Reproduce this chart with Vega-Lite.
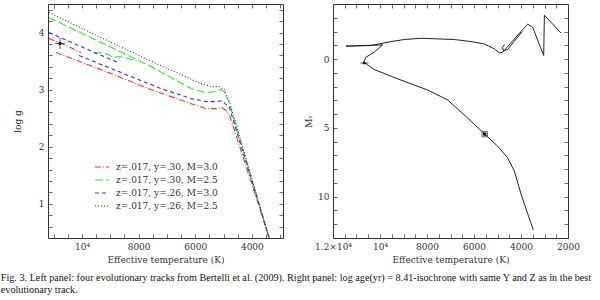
{
  "$schema": "https://vega.github.io/schema/vega-lite/v6.json",
  "padding": {"left": 0, "top": 3, "right": 0, "bottom": 0},
  "datasets": {
    "tracks": [
      {"track": "z=.017, y=.30, M=3.0", "seg": "a", "o": 1, "T": 10917, "g": 3.649},
      {"track": "z=.017, y=.30, M=3.0", "seg": "a", "o": 2, "T": 9327, "g": 3.351},
      {"track": "z=.017, y=.30, M=3.0", "seg": "a", "o": 3, "T": 7560, "g": 3.0},
      {"track": "z=.017, y=.30, M=3.0", "seg": "a", "o": 4, "T": 6146, "g": 2.754},
      {"track": "z=.017, y=.30, M=3.0", "seg": "a", "o": 5, "T": 5616, "g": 2.667},
      {"track": "z=.017, y=.30, M=3.0", "seg": "a", "o": 6, "T": 5263, "g": 2.667},
      {"track": "z=.017, y=.30, M=3.0", "seg": "a", "o": 7, "T": 5051, "g": 2.684},
      {"track": "z=.017, y=.30, M=3.0", "seg": "a", "o": 8, "T": 4909, "g": 2.632},
      {"track": "z=.017, y=.30, M=3.0", "seg": "a", "o": 9, "T": 4768, "g": 2.526},
      {"track": "z=.017, y=.30, M=3.0", "seg": "a", "o": 10, "T": 3390, "g": 0.404},
      {"track": "z=.017, y=.30, M=3.0", "seg": "b", "o": 1, "T": 11165, "g": 3.895},
      {"track": "z=.017, y=.30, M=3.0", "seg": "b", "o": 2, "T": 10564, "g": 3.772},
      {"track": "z=.017, y=.30, M=3.0", "seg": "b", "o": 3, "T": 10034, "g": 3.649},

      {"track": "z=.017, y=.30, M=2.5", "seg": "a", "o": 1, "T": 11165, "g": 4.263},
      {"track": "z=.017, y=.30, M=2.5", "seg": "a", "o": 2, "T": 9327, "g": 3.825},
      {"track": "z=.017, y=.30, M=2.5", "seg": "a", "o": 3, "T": 7560, "g": 3.404},
      {"track": "z=.017, y=.30, M=2.5", "seg": "a", "o": 4, "T": 6146, "g": 3.018},
      {"track": "z=.017, y=.30, M=2.5", "seg": "a", "o": 5, "T": 5616, "g": 2.947},
      {"track": "z=.017, y=.30, M=2.5", "seg": "a", "o": 6, "T": 5334, "g": 2.965},
      {"track": "z=.017, y=.30, M=2.5", "seg": "a", "o": 7, "T": 5121, "g": 3.0},
      {"track": "z=.017, y=.30, M=2.5", "seg": "a", "o": 8, "T": 4980, "g": 2.965},
      {"track": "z=.017, y=.30, M=2.5", "seg": "a", "o": 9, "T": 4804, "g": 2.772},
      {"track": "z=.017, y=.30, M=2.5", "seg": "a", "o": 10, "T": 3390, "g": 0.404},
      {"track": "z=.017, y=.30, M=2.5", "seg": "b", "o": 1, "T": 9574, "g": 3.632},
      {"track": "z=.017, y=.30, M=2.5", "seg": "b", "o": 2, "T": 9327, "g": 3.649},
      {"track": "z=.017, y=.30, M=2.5", "seg": "b", "o": 3, "T": 9080, "g": 3.614},
      {"track": "z=.017, y=.30, M=2.5", "seg": "b", "o": 4, "T": 8868, "g": 3.561},
      {"track": "z=.017, y=.30, M=2.5", "seg": "b", "o": 5, "T": 8691, "g": 3.579},
      {"track": "z=.017, y=.30, M=2.5", "seg": "b", "o": 6, "T": 8479, "g": 3.561},
      {"track": "z=.017, y=.30, M=2.5", "seg": "b", "o": 7, "T": 8267, "g": 3.526},
      {"track": "z=.017, y=.30, M=2.5", "seg": "b", "o": 8, "T": 8055, "g": 3.509},

      {"track": "z=.017, y=.26, M=3.0", "seg": "a", "o": 1, "T": 10105, "g": 3.596},
      {"track": "z=.017, y=.26, M=3.0", "seg": "a", "o": 2, "T": 8620, "g": 3.298},
      {"track": "z=.017, y=.26, M=3.0", "seg": "a", "o": 3, "T": 7206, "g": 3.018},
      {"track": "z=.017, y=.26, M=3.0", "seg": "a", "o": 4, "T": 6146, "g": 2.842},
      {"track": "z=.017, y=.26, M=3.0", "seg": "a", "o": 5, "T": 5616, "g": 2.789},
      {"track": "z=.017, y=.26, M=3.0", "seg": "a", "o": 6, "T": 5263, "g": 2.789},
      {"track": "z=.017, y=.26, M=3.0", "seg": "a", "o": 7, "T": 5051, "g": 2.807},
      {"track": "z=.017, y=.26, M=3.0", "seg": "a", "o": 8, "T": 4945, "g": 2.754},
      {"track": "z=.017, y=.26, M=3.0", "seg": "a", "o": 9, "T": 4804, "g": 2.702},
      {"track": "z=.017, y=.26, M=3.0", "seg": "a", "o": 10, "T": 3390, "g": 0.404},
      {"track": "z=.017, y=.26, M=3.0", "seg": "b", "o": 1, "T": 11165, "g": 4.0},
      {"track": "z=.017, y=.26, M=3.0", "seg": "b", "o": 2, "T": 10034, "g": 3.754},
      {"track": "z=.017, y=.26, M=3.0", "seg": "b", "o": 3, "T": 8726, "g": 3.474},

      {"track": "z=.017, y=.26, M=2.5", "seg": "a", "o": 1, "T": 11165, "g": 4.351},
      {"track": "z=.017, y=.26, M=2.5", "seg": "a", "o": 2, "T": 9327, "g": 3.912},
      {"track": "z=.017, y=.26, M=2.5", "seg": "a", "o": 3, "T": 7454, "g": 3.474},
      {"track": "z=.017, y=.26, M=2.5", "seg": "a", "o": 4, "T": 5793, "g": 3.105},
      {"track": "z=.017, y=.26, M=2.5", "seg": "a", "o": 5, "T": 5440, "g": 3.053},
      {"track": "z=.017, y=.26, M=2.5", "seg": "a", "o": 6, "T": 5157, "g": 3.053},
      {"track": "z=.017, y=.26, M=2.5", "seg": "a", "o": 7, "T": 4980, "g": 3.0},
      {"track": "z=.017, y=.26, M=2.5", "seg": "a", "o": 8, "T": 4804, "g": 2.807},
      {"track": "z=.017, y=.26, M=2.5", "seg": "a", "o": 9, "T": 3390, "g": 0.404}
    ],
    "errL": [{"T": 10776, "g": 3.81, "T0": 10600, "T1": 10950, "g0": 3.71, "g1": 3.91}],
    "iso": [
      {"seg": "a", "o": 1, "T": 3477, "M": 12.4},
      {"seg": "a", "o": 2, "T": 3715, "M": 11.24},
      {"seg": "a", "o": 3, "T": 4000, "M": 9.8},
      {"seg": "a", "o": 4, "T": 4285, "M": 8.13},
      {"seg": "a", "o": 5, "T": 4570, "M": 7.17},
      {"seg": "a", "o": 6, "T": 4995, "M": 6.33},
      {"seg": "a", "o": 7, "T": 5545, "M": 5.45},
      {"seg": "a", "o": 8, "T": 6268, "M": 4.29},
      {"seg": "a", "o": 9, "T": 7120, "M": 2.97},
      {"seg": "a", "o": 10, "T": 7970, "M": 2.25},
      {"seg": "a", "o": 11, "T": 9107, "M": 1.53},
      {"seg": "a", "o": 12, "T": 10250, "M": 0.76},
      {"seg": "a", "o": 13, "T": 10694, "M": 0.22},
      {"seg": "a", "o": 14, "T": 10596, "M": -0.14},
      {"seg": "a", "o": 15, "T": 10243, "M": -0.5},
      {"seg": "a", "o": 16, "T": 9886, "M": -1.03},
      {"seg": "a", "o": 17, "T": 11447, "M": -0.94},
      {"seg": "a", "o": 18, "T": 10383, "M": -0.98},
      {"seg": "a", "o": 19, "T": 9600, "M": -1.25},
      {"seg": "a", "o": 20, "T": 8966, "M": -1.42},
      {"seg": "a", "o": 21, "T": 8256, "M": -1.51},
      {"seg": "a", "o": 22, "T": 6839, "M": -1.42},
      {"seg": "a", "o": 23, "T": 6128, "M": -1.27},
      {"seg": "a", "o": 24, "T": 5562, "M": -1.1},
      {"seg": "a", "o": 25, "T": 5137, "M": -0.74},
      {"seg": "a", "o": 26, "T": 4924, "M": -0.45},
      {"seg": "a", "o": 27, "T": 4779, "M": -0.5},
      {"seg": "a", "o": 28, "T": 4285, "M": -1.46},
      {"seg": "a", "o": 29, "T": 3715, "M": -2.54},
      {"seg": "a", "o": 30, "T": 3502, "M": -2.3},
      {"seg": "a", "o": 31, "T": 3034, "M": -0.26},
      {"seg": "a", "o": 32, "T": 3005, "M": -3.19},
      {"seg": "a", "o": 33, "T": 2298, "M": -1.89},
      {"seg": "b", "o": 1, "T": 4700, "M": -1.05},
      {"seg": "b", "o": 2, "T": 4790, "M": -0.85},
      {"seg": "b", "o": 3, "T": 4740, "M": -0.6},
      {"seg": "b", "o": 4, "T": 4560, "M": -0.7},
      {"seg": "b", "o": 5, "T": 4285, "M": -1.3},
      {"seg": "b", "o": 6, "T": 3950, "M": -2.0}
    ],
    "errR": [{"T": 10667, "M": 0.29, "T0": 10490, "T1": 10840}],
    "star": [{"T": 5545, "M": 5.45}]
  },
  "title": {
    "text": [
      "Fig. 3. Left panel: four evolutionary tracks from Bertelli et al. (2009). Right panel: log age(yr) = 8.41-isochrone with same Y and Z as in the best",
      "evolutionary track."
    ],
    "orient": "bottom", "anchor": "start", "dx": 0, "offset": 8,
    "font": "Liberation Serif", "fontSize": 10.2, "fontWeight": "normal", "color": "#111", "lineHeight": 12
  },
  "spacing": 20,
  "hconcat": [
    {
      "width": 235, "height": 234,
      "resolve": {"axis": {"x": "independent", "y": "independent"}},
      "layer": [
        {
          "data": {"name": "tracks"},
          "mark": {"type": "line", "strokeWidth": 1.1},
          "encoding": {
            "x": {"field": "T", "type": "quantitative",
              "scale": {"domain": [2900, 11200], "reverse": true, "nice": false, "zero": false},
              "axis": {"orient": "bottom", "title": "Effective temperature (K)",
                "values": [3000,3500,4000,4500,5000,5500,6000,6500,7000,7500,8000,8500,9000,9500,10000,10500,11000],
                "labelExpr": "datum.value % 2000 == 0 ? (datum.value == 10000 ? '10⁴' : format(datum.value, 'd')) : ''"}},
            "y": {"field": "g", "type": "quantitative",
              "scale": {"domain": [0.4, 4.5], "nice": false, "zero": false},
              "axis": {"orient": "left", "title": ["\u00a0", "\u00a0", "log g"], "titleLineHeight": 12, "titleColor": "#222222",
                "values": [0.6,0.8,1,1.2,1.4,1.6,1.8,2,2.2,2.4,2.6,2.8,3,3.2,3.4,3.6,3.8,4,4.2,4.4],
                "labelExpr": "abs(datum.value - round(datum.value)) < 0.01 ? format(datum.value, 'd') : ''"}},
            "color": {"field": "track", "type": "nominal",
              "scale": {"domain": ["z=.017, y=.30, M=3.0", "z=.017, y=.30, M=2.5", "z=.017, y=.26, M=3.0", "z=.017, y=.26, M=2.5"],
                "range": ["#ee3333", "#3ddd3d", "#3333ee", "#333333"]},
              "legend": {"orient": "none", "legendX": 46, "legendY": 155, "title": null, "symbolType": "stroke", "symbolSize": 200, "symbolStrokeWidth": 1.2, "labelFontSize": 9, "labelFont": "DejaVu Serif", "labelColor": "#333", "rowPadding": 0, "labelOffset": 6}},
            "strokeDash": {"field": "track", "type": "nominal",
              "scale": {"domain": ["z=.017, y=.30, M=3.0", "z=.017, y=.30, M=2.5", "z=.017, y=.26, M=3.0", "z=.017, y=.26, M=2.5"],
                "range": [[6, 2, 1, 2], [8, 3], [4, 3], [1, 2]]},
              "legend": {"orient": "none", "legendX": 46, "legendY": 155, "title": null, "symbolType": "stroke", "symbolSize": 200, "symbolStrokeWidth": 1.2, "labelFontSize": 9, "labelFont": "DejaVu Serif", "labelColor": "#333", "rowPadding": 0, "labelOffset": 6}},
            "detail": {"field": "seg"},
            "order": {"field": "o", "type": "quantitative"}
          }
        },
        {
          "data": {"name": "errL"},
          "mark": {"type": "rule", "color": "#333", "strokeWidth": 0.8},
          "encoding": {
            "x": {"field": "T0", "type": "quantitative",
              "scale": {"domain": [2900, 11200], "reverse": true, "nice": false, "zero": false},
              "axis": {"orient": "top", "labels": false, "title": null,
                "values": [3000,3500,4000,4500,5000,5500,6000,6500,7000,7500,8000,8500,9000,9500,10000,10500,11000]}},
            "x2": {"field": "T1"},
            "y": {"field": "g", "type": "quantitative",
              "scale": {"domain": [0.4, 4.5], "nice": false, "zero": false},
              "axis": {"orient": "right", "labels": false, "title": null,
                "values": [0.6,0.8,1,1.2,1.4,1.6,1.8,2,2.2,2.4,2.6,2.8,3,3.2,3.4,3.6,3.8,4,4.2,4.4]}}
          }
        },
        {
          "data": {"name": "errL"},
          "mark": {"type": "rule", "color": "#333", "strokeWidth": 0.8},
          "encoding": {
            "x": {"field": "T", "type": "quantitative", "axis": null},
            "y": {"field": "g0", "type": "quantitative", "axis": null},
            "y2": {"field": "g1"}
          }
        },
        {
          "data": {"name": "errL"},
          "mark": {"type": "point", "filled": true, "color": "#111", "size": 10, "opacity": 1},
          "encoding": {
            "x": {"field": "T", "type": "quantitative", "axis": null},
            "y": {"field": "g", "type": "quantitative", "axis": null}
          }
        }
      ]
    },
    {
      "width": 235, "height": 234,
      "resolve": {"axis": {"x": "independent", "y": "independent"}},
      "layer": [
        {
          "data": {"name": "iso"},
          "mark": {"type": "line", "color": "#222", "strokeWidth": 1},
          "encoding": {
            "x": {"field": "T", "type": "quantitative",
              "scale": {"domain": [2000, 12000], "reverse": true, "nice": false, "zero": false},
              "axis": {"orient": "bottom", "title": "Effective temperature (K)",
                "values": [2000,2500,3000,3500,4000,4500,5000,5500,6000,6500,7000,7500,8000,8500,9000,9500,10000,10500,11000,11500,12000],
                "labelExpr": "datum.value % 2000 == 0 ? (datum.value == 10000 ? '10⁴' : datum.value == 12000 ? '1.2×10⁴' : format(datum.value, 'd')) : ''"}},
            "y": {"field": "M", "type": "quantitative",
              "scale": {"domain": [-4, 13], "reverse": true, "nice": false, "zero": false},
              "axis": {"orient": "left", "title": "Mᵥ",
                "values": [-3,-2,-1,0,1,2,3,4,5,6,7,8,9,10,11,12],
                "labelExpr": "datum.value % 5 == 0 ? format(datum.value, 'd') : ''"}},
            "detail": {"field": "seg"},
            "order": {"field": "o", "type": "quantitative"}
          }
        },
        {
          "data": {"name": "errR"},
          "mark": {"type": "rule", "color": "#333", "strokeWidth": 0.8},
          "encoding": {
            "x": {"field": "T0", "type": "quantitative",
              "scale": {"domain": [2000, 12000], "reverse": true, "nice": false, "zero": false},
              "axis": {"orient": "top", "labels": false, "title": null,
                "values": [2000,2500,3000,3500,4000,4500,5000,5500,6000,6500,7000,7500,8000,8500,9000,9500,10000,10500,11000,11500,12000]}},
            "x2": {"field": "T1"},
            "y": {"field": "M", "type": "quantitative",
              "scale": {"domain": [-4, 13], "reverse": true, "nice": false, "zero": false},
              "axis": {"orient": "right", "labels": false, "title": null,
                "values": [-3,-2,-1,0,1,2,3,4,5,6,7,8,9,10,11,12]}}
          }
        },
        {
          "data": {"name": "errR"},
          "mark": {"type": "point", "filled": true, "color": "#111", "size": 8, "opacity": 1},
          "encoding": {
            "x": {"field": "T", "type": "quantitative", "axis": null},
            "y": {"field": "M", "type": "quantitative", "axis": null}
          }
        },
        {
          "data": {"name": "star"},
          "mark": {"type": "square", "filled": false, "color": "#666", "size": 30, "strokeWidth": 1, "opacity": 1},
          "encoding": {
            "x": {"field": "T", "type": "quantitative", "axis": null},
            "y": {"field": "M", "type": "quantitative", "axis": null}
          }
        },
        {
          "data": {"name": "star"},
          "mark": {"type": "square", "filled": true, "color": "#000", "size": 10, "opacity": 1},
          "encoding": {
            "x": {"field": "T", "type": "quantitative", "axis": null},
            "y": {"field": "M", "type": "quantitative", "axis": null}
          }
        }
      ]
    }
  ],
  "config": {
    "view": {"stroke": "#333", "strokeWidth": 1},
    "font": "DejaVu Serif",
    "axis": {
      "domain": false, "grid": false, "tickColor": "#444", "tickSize": -4, "tickWidth": 0.8,
      "labelPadding": 8, "labelFont": "DejaVu Serif", "labelFontSize": 9, "labelColor": "#333",
      "titleFont": "DejaVu Serif", "titleFontSize": 9, "titleFontWeight": "normal", "titleColor": "#333",
      "labelFlush": false, "labelOverlap": false, "titlePadding": 4
    }
  }
}
